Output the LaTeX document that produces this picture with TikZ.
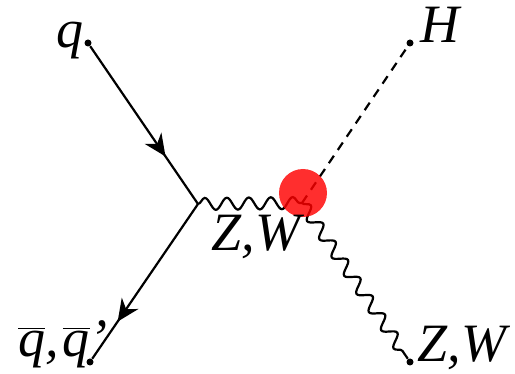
\documentclass[tikz,border=0pt]{standalone}
\usepackage{fontspec}
\setmainfont{Liberation Serif}
\usetikzlibrary{arrows.meta,decorations.pathmorphing,decorations.markings}
\tikzset{
  fermion/.style={
    line width=1.1pt,
    postaction={decorate},
    decoration={markings,
      mark=at position #1 with {\arrow{Stealth[length=11pt,width=10pt,inset=3.5pt]}}}
  },
  boson/.style={
    line width=1.1pt,
    decorate,
    decoration={snake, amplitude=3pt, segment length=11pt}
  },
  scalar/.style={
    line width=1.1pt,
    dash pattern=on 4.5pt off 3.5pt
  },
  extdot/.style={
    circle,
    fill=black,
    inner sep=0pt,
    minimum size=3.5pt
  },
  blob/.style={
    circle,
    fill=red,
    fill opacity=0.82,
    inner sep=0pt,
    minimum size=24pt
  },
  partlabel/.style={
    font=\fontsize{27}{30}\selectfont\itshape,
    inner sep=0pt,
    anchor=base
  }
}

\begin{document}
\begin{tikzpicture}[x=0.5pt, y=-0.5pt]
  \useasboundingbox (0,0) rectangle (515,374);
  % vertices and external points
  \coordinate (vq) at (198,204);
  \coordinate (vh) at (302,203);
  \node[extdot] (quark) at (88,43) {};
  \node[extdot] (antiquark) at (90,362) {};
  \node[extdot] (higgs) at (410,43) {};
  \node[extdot] (vout) at (410,362) {};
  % propagators
  \draw[fermion=0.7] (quark) -- (vq);
  \draw[fermion=0.76] (vq) -- (antiquark);
  \draw[boson] (vq) -- (vh);
  \draw[boson] (vh) -- (vout);
  \draw[scalar] (vh) -- (higgs);
  \node[blob] (coupling) at (303,193) {};
  % labels
  \node[partlabel] (qlabel) at (70,48) {q};
  \node[partlabel] (hlabel) at (440,43) {H};
  \node[partlabel] (zwmid) at (256,250) {Z,W};
  \node[partlabel] (zwout) at (462,362) {Z,W};
  \node[partlabel] (qbarlabel) at (63,357)
    {$\overline{\mbox{\itshape q}}$,\kern2pt$\overline{\mbox{\itshape q}}$'};
\end{tikzpicture}
\end{document}
